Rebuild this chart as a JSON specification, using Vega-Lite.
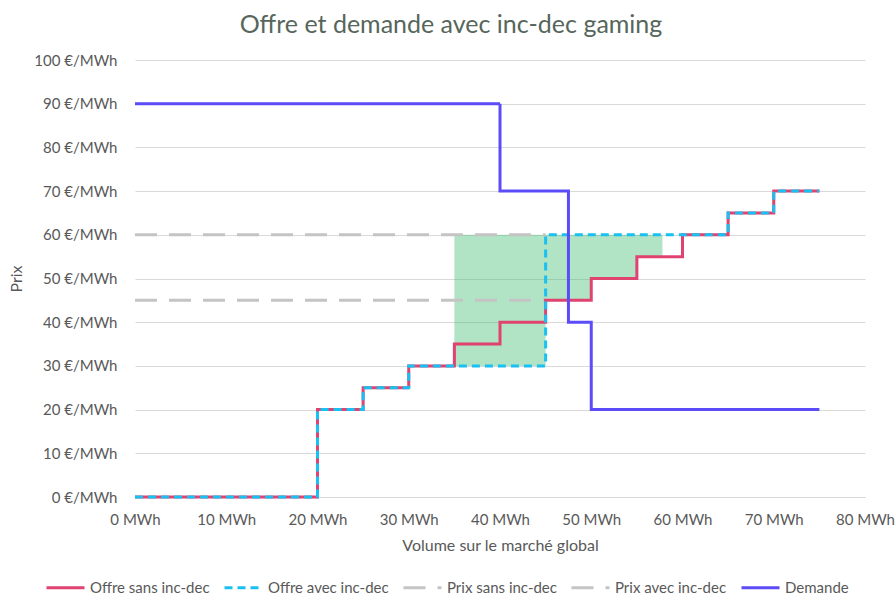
{
  "$schema": "https://vega.github.io/schema/vega-lite/v6.json",
  "autosize": {"type": "none"},
  "padding": {"left": 135, "top": 60, "right": 31, "bottom": 100},
  "width": 730,
  "height": 437,
  "background": "white",
  "title": {
    "text": "Offre et demande avec inc-dec gaming",
    "font": "Lato",
    "fontSize": 25,
    "fontWeight": "normal",
    "color": "#56665b",
    "dx": -49,
    "offset": 15
  },
  "datasets": {
    "lines": [
      {"series": "Offre sans inc-dec", "x": 0, "y": 0},
      {"series": "Offre sans inc-dec", "x": 20, "y": 20},
      {"series": "Offre sans inc-dec", "x": 25, "y": 25},
      {"series": "Offre sans inc-dec", "x": 30, "y": 30},
      {"series": "Offre sans inc-dec", "x": 35, "y": 35},
      {"series": "Offre sans inc-dec", "x": 40, "y": 40},
      {"series": "Offre sans inc-dec", "x": 45, "y": 45},
      {"series": "Offre sans inc-dec", "x": 50, "y": 50},
      {"series": "Offre sans inc-dec", "x": 55, "y": 55},
      {"series": "Offre sans inc-dec", "x": 60, "y": 60},
      {"series": "Offre sans inc-dec", "x": 65, "y": 65},
      {"series": "Offre sans inc-dec", "x": 70, "y": 70},
      {"series": "Offre sans inc-dec", "x": 75, "y": 70},
      {"series": "Offre avec inc-dec", "x": 0, "y": 0},
      {"series": "Offre avec inc-dec", "x": 20, "y": 20},
      {"series": "Offre avec inc-dec", "x": 25, "y": 25},
      {"series": "Offre avec inc-dec", "x": 30, "y": 30},
      {"series": "Offre avec inc-dec", "x": 45, "y": 60},
      {"series": "Offre avec inc-dec", "x": 65, "y": 65},
      {"series": "Offre avec inc-dec", "x": 70, "y": 70},
      {"series": "Offre avec inc-dec", "x": 75, "y": 70},
      {"series": "Prix sans inc-dec", "x": 0, "y": 45},
      {"series": "Prix sans inc-dec", "x": 45, "y": 45},
      {"series": "Prix avec inc-dec", "x": 0, "y": 60},
      {"series": "Prix avec inc-dec", "x": 45, "y": 60},
      {"series": "Demande", "x": 0, "y": 90},
      {"series": "Demande", "x": 40, "y": 70},
      {"series": "Demande", "x": 47.5, "y": 40},
      {"series": "Demande", "x": 50, "y": 20},
      {"series": "Demande", "x": 75, "y": 20}
    ],
    "area": [
      {"x": 35, "low": 30, "high": 60},
      {"x": 45, "low": 45, "high": 60},
      {"x": 50, "low": 50, "high": 60},
      {"x": 55, "low": 55, "high": 60},
      {"x": 57.8, "low": 55, "high": 60}
    ]
  },
  "config": {
    "view": {"stroke": null},
    "axis": {
      "labelFont": "Lato",
      "labelFontSize": 15,
      "labelColor": "#595959",
      "titleFont": "Lato",
      "titleFontSize": 16,
      "titleFontWeight": "normal",
      "titleColor": "#595959",
      "gridColor": "#d9d9d9",
      "ticks": false
    },
    "legend": {
      "labelFont": "Lato",
      "labelFontSize": 15,
      "labelColor": "#595959"
    }
  },
  "layer": [
    {
      "data": {"name": "area"},
      "mark": {"type": "area", "interpolate": "step-after", "color": "#3cb96e", "opacity": 0.4},
      "encoding": {
        "x": {"field": "x", "type": "quantitative", "scale": {"domain": [0, 80], "nice": false}},
        "y": {"field": "low", "type": "quantitative", "scale": {"domain": [0, 100], "nice": false}},
        "y2": {"field": "high"},
        "color": {"value": "#3cb96e"},
        "strokeDash": {"value": [1, 0]}
      }
    },
    {
      "data": {"name": "lines"},
      "transform": [{"filter": "datum.series === 'Prix sans inc-dec' || datum.series === 'Prix avec inc-dec'"}],
      "mark": {"type": "line", "interpolate": "step-after", "strokeWidth": 3}
    },
    {
      "data": {"name": "lines"},
      "transform": [{"filter": "datum.series === 'Offre sans inc-dec'"}],
      "mark": {"type": "line", "interpolate": "step-after", "strokeWidth": 3}
    },
    {
      "data": {"name": "lines"},
      "transform": [{"filter": "datum.series === 'Offre avec inc-dec'"}],
      "mark": {"type": "line", "interpolate": "step-after", "strokeWidth": 3}
    },
    {
      "data": {"name": "lines"},
      "transform": [{"filter": "datum.series === 'Demande'"}],
      "mark": {"type": "line", "interpolate": "step-after", "strokeWidth": 3}
    }
  ],
  "encoding": {
    "x": {
      "field": "x",
      "type": "quantitative",
      "title": "Volume sur le marché global",
      "scale": {"domain": [0, 80], "nice": false},
      "axis": {
        "values": [0, 10, 20, 30, 40, 50, 60, 70, 80],
        "labelExpr": "datum.value + ' MWh'",
        "labelFlush": false,
        "labelOverlap": false,
        "grid": false,
        "domain": true,
        "domainColor": "#d9d9d9",
        "labelPadding": 15,
        "titlePadding": 10
      }
    },
    "y": {
      "field": "y",
      "type": "quantitative",
      "title": "Prix",
      "scale": {"domain": [0, 100], "nice": false},
      "axis": {
        "values": [0, 10, 20, 30, 40, 50, 60, 70, 80, 90, 100],
        "labelExpr": "datum.value + ' €/MWh'",
        "domain": false,
        "labelPadding": 18,
        "titlePadding": 9
      }
    },
    "color": {
      "field": "series",
      "type": "nominal",
      "scale": {
        "domain": ["Offre sans inc-dec", "Offre avec inc-dec", "Prix sans inc-dec", "Prix avec inc-dec", "Demande"],
        "range": ["#e0436f", "#19c0f2", "#c4c4c4", "#c4c4c4", "#5b4cf7"]
      },
      "legend": {
        "title": null,
        "orient": "none",
        "direction": "horizontal",
        "legendX": -90,
        "legendY": 507,
        "symbolType": "stroke",
        "symbolStrokeWidth": 3,
        "symbolSize": 1444,
        "columnPadding": 8,
        "labelOffset": 4
      }
    },
    "strokeDash": {
      "field": "series",
      "type": "nominal",
      "scale": {
        "domain": ["Offre sans inc-dec", "Offre avec inc-dec", "Prix sans inc-dec", "Prix avec inc-dec", "Demande"],
        "range": [[1, 0], [8, 5], [22, 12], [22, 12], [1, 0]]
      },
      "legend": {
        "title": null,
        "orient": "none",
        "direction": "horizontal",
        "legendX": -90,
        "legendY": 507,
        "symbolType": "stroke",
        "symbolStrokeWidth": 3,
        "symbolSize": 1444,
        "columnPadding": 8,
        "labelOffset": 4
      }
    }
  }
}
